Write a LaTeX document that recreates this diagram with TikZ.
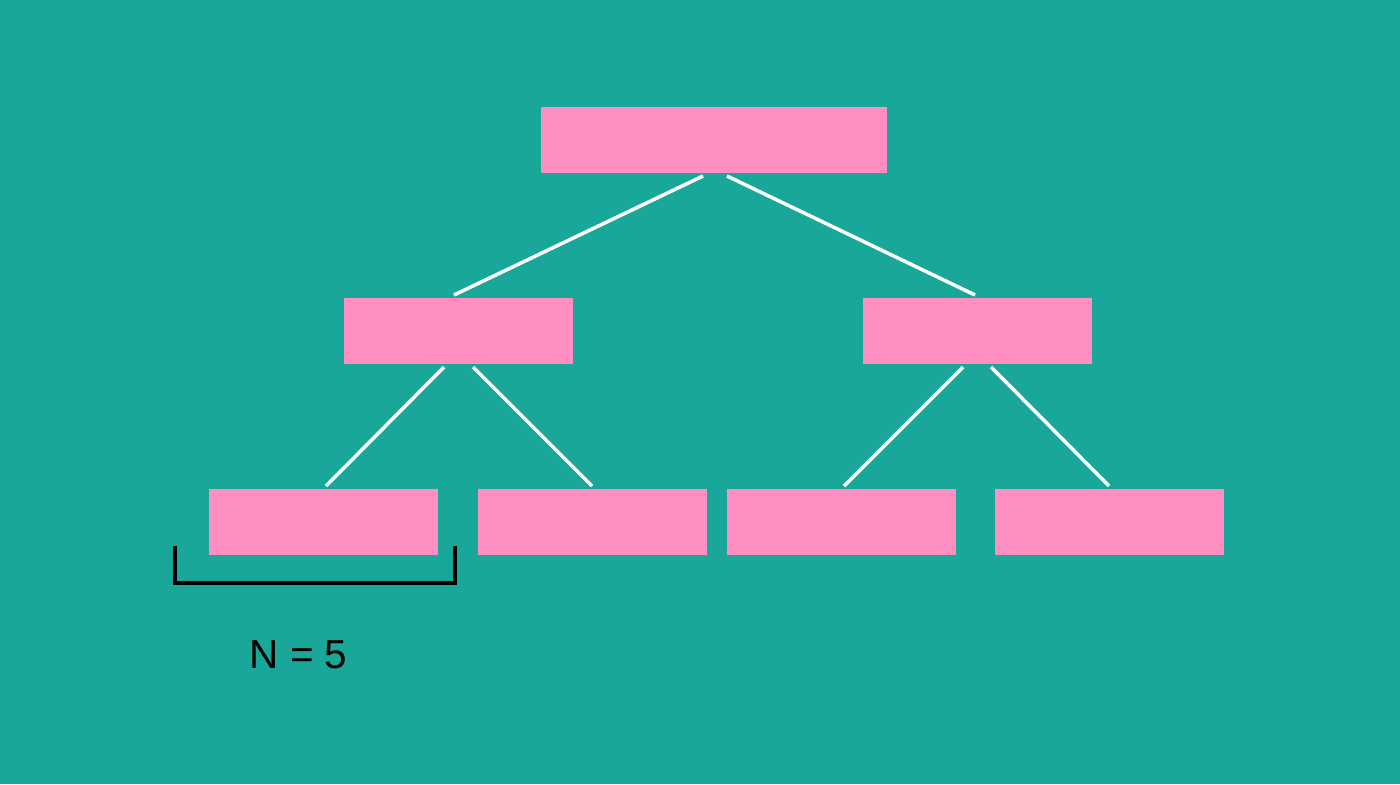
\documentclass[tikz,border=0pt]{standalone}
\usepackage{fontspec}
\setmainfont{Liberation Sans}
\usetikzlibrary{positioning}
\usetikzlibrary{calc}

\definecolor{bgteal}{HTML}{19A79A}
\definecolor{boxpink}{HTML}{FF8EC3}

\begin{document}
\begin{tikzpicture}[
    block/.style={rectangle, fill=boxpink, inner sep=0, outer sep=0, minimum height=0.66cm, minimum width=2.29cm},
    edge/.style={draw=white, line width=1pt},
]
    \fill[bgteal] (0,0) rectangle (14,7.84);

    \node[block, minimum width=3.46cm] (R) at (7.14,6.44) {};
    \node[block] (L) at (4.58,4.53) {};
    \node[block] (M) at (9.77,4.53) {};

    \node[block] (B1) at (3.23,2.62) {};
    \node[block] (B2) [right=0.40cm of B1] {};
    \node[block] (B3) [right=0.20cm of B2] {};
    \node[block] (B4) [right=0.39cm of B3] {};

    \draw[edge] ($(R.south)+(-0.11,-0.03)$) -- ($(L.north)+(-0.04,0.03)$);
    \draw[edge] ($(R.south)+(0.13,-0.03)$) -- ($(M.north)+(-0.02,0.03)$);

    \draw[edge] ($(L.south)+(-0.14,-0.03)$) -- ($(B1.north)+(0.03,0.03)$);
    \draw[edge] ($(L.south)+(0.15,-0.03)$) -- ($(B2.north)+(0,0.03)$);
    \draw[edge] ($(M.south)+(-0.14,-0.03)$) -- ($(B3.north)+(0.03,0.03)$);
    \draw[edge] ($(M.south)+(0.14,-0.03)$) -- ($(B4.north)+(0,0.03)$);

    \draw[black, line width=1.1pt] ($(B1.south west)+(-0.335,0.09)$) -- ($(B1.south west)+(-0.335,-0.28)$) -| ($(B1.south east)+(0.175,0.09)$);
    \node[font=\fontsize{11.5}{14}\selectfont] (N) at (2.985,1.29) {N = 5};

\end{tikzpicture}
\end{document}
